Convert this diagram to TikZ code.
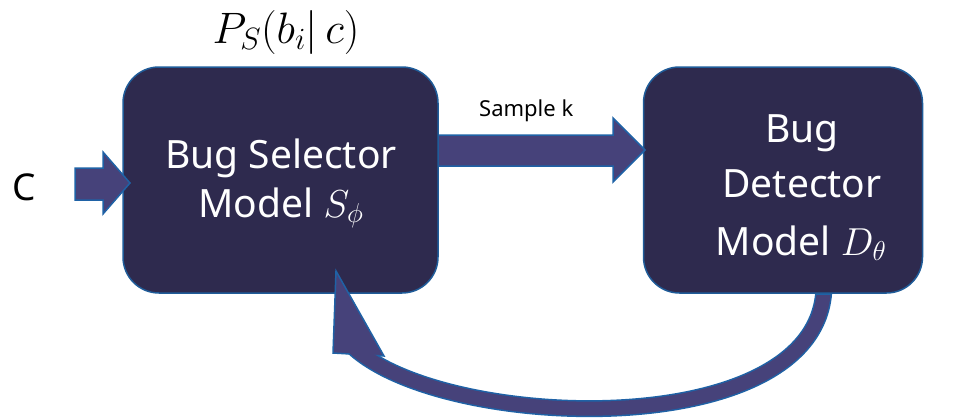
\RequirePackage{fix-cm}
\documentclass[tikz,border=0pt]{standalone}
\usepackage{fontspec}
\setmainfont{Noto Sans}
\usetikzlibrary{calc}
\definecolor{boxfill}{HTML}{2E2A4E}
\definecolor{boxline}{HTML}{1F5C99}
\definecolor{arrfill}{HTML}{46427A}
\definecolor{arrline}{HTML}{1F62A6}
\begin{document}
\begin{tikzpicture}[x=1pt,y=-1pt,
  box/.style={draw=boxline, line width=1.5pt, fill=boxfill, rounded corners=36pt, inner sep=0pt},
  blockarrow/.style={draw=arrline, line width=1.5pt, fill=arrfill, line join=miter},
  boxtext/.style={text=white, font=\fontsize{39}{44}\selectfont, anchor=base, inner sep=0pt},
  plain/.style={text=black, inner sep=0pt, anchor=base}]
\useasboundingbox (0,0) rectangle (953,418);

% loop arrow shaft border (under boxes)
\draw[arrline, line width=17pt] (824,285) .. controls (824,446) and (436,432) .. (350,344);

\node[box, minimum width=279pt, minimum height=226pt] (det) at (783,180) {};

% sample arrow
\coordinate (s0) at (430,150);
\draw[blockarrow] ($(s0)+(0,-15)$) -- (613,135) -- (613,118) -- (645,150) -- (613,182) -- (613,166) -- ($(s0)+(0,16)$) -- cycle;

\node[box, minimum width=315pt, minimum height=226pt] (sel) at (280.5,180) {};

% input arrow
\draw[blockarrow] (75,168) -- (103,168) -- (103,152) -- (130,183) -- (103,214) -- (103,200) -- (75,200) -- cycle;

% loop arrow head
\draw[blockarrow] (336,271) -- (333,353) -- (384,356) -- cycle;
\begin{scope}
\clip (0,295) rectangle (953,418);
\draw[arrfill, line width=14pt] (824,285) .. controls (824,446) and (436,432) .. (350,344);
\end{scope}

% texts
\node[boxtext] (t1) at (281,168) {Bug Selector};
\node[boxtext] (t2) at (281,217) {Model $S_\phi$};
\node[boxtext] (t3) at (802,142) {Bug};
\node[boxtext] (t4) at (802,197) {Detector};
\node[boxtext] (t5) at (801,255) {Model $D_\theta$};
\node[plain, font=\fontsize{37}{40}\selectfont] (c) at (24,200) {C};
\node[plain, anchor=base west, font=\fontsize{22}{26}\selectfont] (sk) at (479,116) {Sample k};
\node[plain, font=\fontsize{44}{48}\selectfont] (p) at (286,43) {$P_S(b_i|\,c)$};
\end{tikzpicture}
\end{document}
